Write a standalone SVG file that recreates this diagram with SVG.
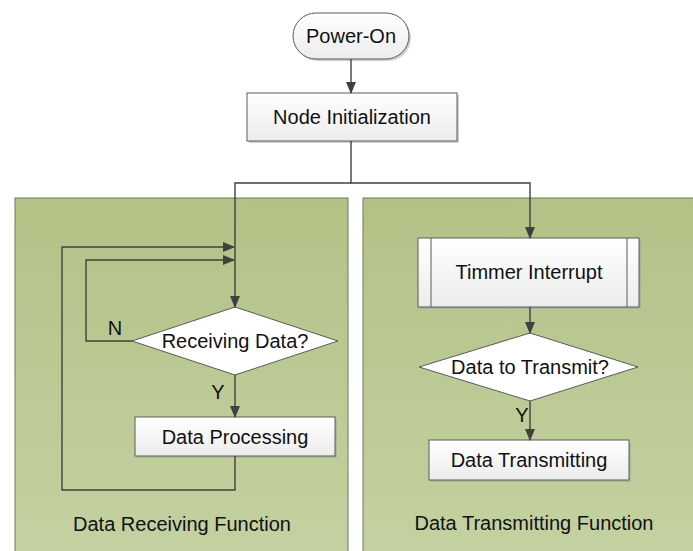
<svg xmlns="http://www.w3.org/2000/svg" width="693" height="551" viewBox="0 0 693 551">
<defs>
<linearGradient id="panelG" x1="0" y1="0" x2="0" y2="1">
<stop offset="0" stop-color="#b2c286"/>
<stop offset="1" stop-color="#c4d1a1"/>
</linearGradient>
<linearGradient id="boxG" x1="0" y1="0" x2="0" y2="1">
<stop offset="0" stop-color="#ffffff"/>
<stop offset="1" stop-color="#ececec"/>
</linearGradient>
<marker id="arr" markerUnits="userSpaceOnUse" markerWidth="12" markerHeight="10" viewBox="0 0 12 10" refX="11" refY="5" orient="auto">
<path d="M0,0 L12,5 L0,10 Z" fill="#404040"/>
</marker>
</defs>
<style>
.panel{fill:url(#panelG);stroke:#6f7a5a;stroke-width:1}
.box{fill:url(#boxG);stroke:#5a5a5a;stroke-width:1}
.shadow{fill:#9a9a9a;opacity:0.45}
.dia{fill:#ffffff;stroke:#5a5a5a;stroke-width:1}
.t{font-family:"Liberation Sans",Arial,sans-serif;font-size:20px;fill:#111111;text-anchor:middle}
.c{fill:none;stroke:#404040;stroke-width:1.4}
</style>
<rect width="693" height="551" fill="#ffffff"/>
<g id="panel-receive">
<rect class="panel" x="15" y="198" width="333" height="360"/>
<text class="t" x="182" y="531">Data Receiving Function</text>
</g>
<g id="panel-transmit">
<rect class="panel" x="363" y="198" width="340" height="360"/>
<text class="t" x="534" y="530">Data Transmitting Function</text>
</g>
<g id="power-on">
<rect class="shadow" x="295" y="15" width="116" height="46" rx="23"/>
<rect class="box" x="293" y="13" width="116" height="46" rx="23"/>
<text class="t" x="351" y="43">Power-On</text>
</g>
<g id="node-init">
<rect class="shadow" x="249" y="95" width="210" height="48"/>
<rect class="box" x="247" y="93" width="210" height="48"/>
<text class="t" x="352" y="124">Node Initialization</text>
</g>
<g id="receiving-data">
<polygon class="dia" points="235,307 338,341 235,375 132,341"/>
<text class="t" x="235" y="348">Receiving Data?</text>
</g>
<g id="data-processing">
<rect class="shadow" x="137" y="419" width="200" height="39"/>
<rect class="box" x="135" y="417" width="200" height="39"/>
<text class="t" x="235" y="444">Data Processing</text>
</g>
<g id="timer-interrupt">
<rect class="shadow" x="420" y="240" width="221" height="69"/>
<rect class="box" x="418" y="238" width="221" height="69"/>
<line x1="431" y1="238" x2="431" y2="307" stroke="#5a5a5a" stroke-width="1"/>
<line x1="627" y1="238" x2="627" y2="307" stroke="#5a5a5a" stroke-width="1"/>
<text class="t" x="529" y="279">Timmer Interrupt</text>
</g>
<g id="data-to-transmit">
<polygon class="dia" points="530,333 638,367 530,401 419,367"/>
<text class="t" x="530" y="374">Data to Transmit?</text>
</g>
<g id="data-transmitting">
<rect class="shadow" x="431" y="442" width="200" height="40"/>
<rect class="box" x="429" y="440" width="200" height="40"/>
<text class="t" x="529" y="467">Data Transmitting</text>
</g>
<g id="connectors">
<line class="c" x1="351" y1="59" x2="351" y2="93" marker-end="url(#arr)"/>
<polyline class="c" points="351,141 351,183 235,183 235,307" marker-end="url(#arr)"/>
<polyline class="c" points="351,183 530,183 530,238" marker-end="url(#arr)"/>
<polyline class="c" points="132,341 86,341 86,260 234,260" marker-end="url(#arr)"/>
<line class="c" x1="235" y1="375" x2="235" y2="417" marker-end="url(#arr)"/>
<polyline class="c" points="235,456 235,490 62,490 62,247 234,247" marker-end="url(#arr)"/>
<line class="c" x1="530" y1="307" x2="530" y2="333" marker-end="url(#arr)"/>
<line class="c" x1="530" y1="401" x2="530" y2="440" marker-end="url(#arr)"/>
<text class="t" x="115" y="335">N</text>
<text class="t" x="218" y="399">Y</text>
<text class="t" x="522" y="422">Y</text>
</g>
</svg>
